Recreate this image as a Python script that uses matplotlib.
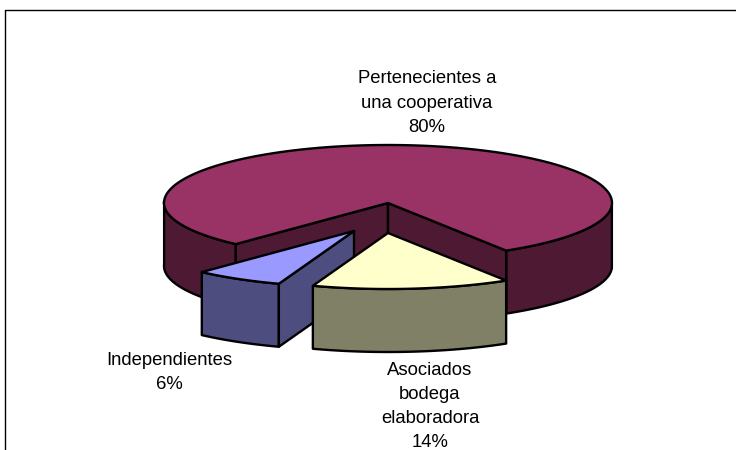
import numpy as np
import matplotlib
matplotlib.use('Agg')
import matplotlib.pyplot as plt

labels = ['Pertenecientes a\nuna cooperativa\n80%', 'Independientes\n6%', 'Asociados\nbodega\nelaboradora\n14%']
values = [80, 6, 14]
top_colors = ['#993366', '#9999FF', '#FFFFCC']
side_colors = ['#4D1933', '#4D4D80', '#808066']
centers = [(388, 203), (354, 231), (388, 233)]
label_pos = [(427, 103), (169, 372.5), (430, 406.5)]

rx, ry_front, ry_back, depth = 224, 56, 58, 63
start = 300
lw = 1.7


def arc(c, a, b):
    # slice angles with a small perspective correction around the front
    t = np.radians(np.linspace(a, b, 200))
    t = t + np.radians(2.17) * np.sin(2 * (t - np.radians(238.8)))
    s = np.sin(t)
    return np.column_stack([c[0] + rx * np.cos(t), c[1] - np.where(s > 0, ry_back, ry_front) * s])


def poly(ax, pts, color):
    ax.fill(pts[:, 0], pts[:, 1], facecolor=color, edgecolor='black', lw=lw, joinstyle='round')


def wall(ax, edge, color):
    pts = np.vstack([edge, edge[::-1] + [0, depth]])
    poly(ax, pts, color)


fig = plt.figure(figsize=(7.36, 4.5), dpi=100)
ax = fig.add_axes([0, 0, 1, 1])
ax.set_xlim(0, 736)
ax.set_ylim(450, 0)
ax.axis('off')

ax.plot([5, 5, 736], [450, 9.5, 9.5], color='black', lw=1)

angles = start + np.cumsum([0] + values) * 3.6

# big slice: outer walls, cut walls, then the top
c = np.array(centers[0])
a, b = angles[0], angles[1]
wall(ax, arc(c, a, 360), side_colors[0])
wall(ax, arc(c, 540, b), side_colors[0])
left = arc(c, b, b)[0]
right = arc(c, a, a)[0]
wall(ax, np.array([c, left]), side_colors[0])
wall(ax, np.array([c, right]), side_colors[0])
poly(ax, np.vstack([[c], arc(c, a, b)]), top_colors[0])

# blue slice
c = np.array(centers[1])
a, b = angles[1] - 360, angles[2] - 360
wall(ax, arc(c, a, b), side_colors[1])
wall(ax, np.array([c, arc(c, b, b)[0]]), side_colors[1])
poly(ax, np.vstack([[c], arc(c, a, b)]), top_colors[1])

# yellow slice
c = np.array(centers[2])
a, b = angles[2] - 360, angles[3] - 360
wall(ax, arc(c, a, b), side_colors[2])
poly(ax, np.vstack([[c], arc(c, a, b)]), top_colors[2])

for lab, pos in zip(labels, label_pos):
    ax.text(pos[0], pos[1], lab, ha='center', va='center', family='Liberation Sans',
            fontsize=13.3, linespacing=1.56, color='black')

fig.savefig('out.png', dpi=100)
